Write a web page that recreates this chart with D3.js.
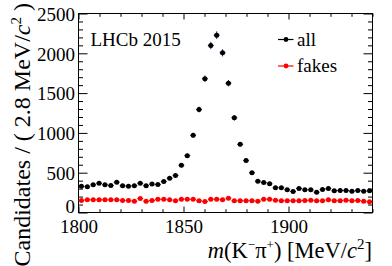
<!DOCTYPE html>
<html><head><meta charset="utf-8">
<script src="https://cdn.jsdelivr.net/npm/d3@7"></script>
<style>
body{margin:0;background:#fff}
svg{display:block}
text{font-family:"Liberation Serif","Times New Roman",serif;fill:#000}
</style>
</head><body>
<svg id="c" width="392" height="266"></svg>
<script>
// ---- data ----
const allCounts = [330,323,348,368,348,339,381,336,330,336,
                   368,336,357,352,389,431,465,594,714,969,
                   1294,1680,2098,2228,2006,1625,1190,856,652,499,
                   394,377,360,311,311,285,264,302,285,285,
                   255,289,302,272,276,276,268,276,268,272];
const fakeCounts = [151,159,159,159,159,159,159,151,151,142,
                    176,142,151,167,167,159,147,167,167,167,
                    147,138,167,167,159,180,147,147,147,147,
                    142,167,167,155,147,147,147,147,151,155,
                    147,147,159,147,147,155,147,151,142,134];
const binStart = 1800, binWidth = 2.8;
const xMajorTicks = [1800,1850,1900];
const yMajorTicks = [0,500,1000,1500,2000,2500];
const seriesNames = ["all","fakes"];
const seriesColors = ["#000000","#ff0000"];
const binCenters = allCounts.map((_,i)=>binStart + binWidth*(i+0.5));

// ---- layout ----
const FONT = '"Liberation Serif","Times New Roman",serif';
const svg = d3.select("#c");
const L=78.5, R=372.5, T=13.5, B=212.5;
const x = d3.scaleLinear().domain([1800,1940]).range([L,R]);
const y = d3.scaleLinear().domain([0,2500]).range([B,T]);

const xMinor = d3.range(1800,1941,10).filter(v=>!xMajorTicks.includes(v));
const yMinor = d3.range(0,2501,100).filter(v=>!yMajorTicks.includes(v));

function addAxis(axis, tx, ty){
  const g = svg.append("g").attr("transform",`translate(${tx},${ty})`).call(axis);
  g.select(".domain").remove();
  g.selectAll("line").attr("stroke","#000").attr("stroke-width",1);
  return g;
}
// bottom
const gxb = addAxis(d3.axisBottom(x).tickValues(xMajorTicks).tickSize(-6).tickPadding(7).tickFormat(d3.format("d")),0,B);
gxb.selectAll("text").attr("font-size",19).style("font-family",FONT);
addAxis(d3.axisBottom(x).tickValues(xMinor).tickSize(-3.3).tickFormat(""),0,B);
// top
addAxis(d3.axisTop(x).tickValues(xMajorTicks).tickSize(-6).tickFormat(""),0,T);
addAxis(d3.axisTop(x).tickValues(xMinor).tickSize(-3.3).tickFormat(""),0,T);
// left
const gyl = addAxis(d3.axisLeft(y).tickValues(yMajorTicks).tickSize(-9).tickPadding(3.5).tickFormat(d3.format("d")),L,0);
gyl.selectAll("text").attr("font-size",19).style("font-family",FONT)
   .attr("dy",d=> d===0 ? "0em" : "0.36em");
addAxis(d3.axisLeft(y).tickValues(yMinor).tickSize(-4.5).tickFormat(""),L,0);
// right
addAxis(d3.axisRight(y).tickValues(yMajorTicks).tickSize(-9).tickFormat(""),R,0);
addAxis(d3.axisRight(y).tickValues(yMinor).tickSize(-4.5).tickFormat(""),R,0);

// frame
svg.append("rect").attr("x",L).attr("y",T).attr("width",R-L).attr("height",B-T)
   .attr("fill","none").attr("stroke","#000").attr("stroke-width",1);

// ---- data points ----
function drawSeries(counts,color,barColor){
  const g = svg.append("g");
  const pts = counts.map((v,i)=>({m:binCenters[i],v}));
  g.selectAll("line.ex").data(pts).join("line")
    .attr("x1",d=>x(d.m-binWidth/2)).attr("x2",d=>x(d.m+binWidth/2))
    .attr("y1",d=>y(d.v)).attr("y2",d=>y(d.v))
    .attr("stroke",barColor).attr("stroke-width",1);
  g.selectAll("line.ey").data(pts).join("line")
    .attr("x1",d=>x(d.m)).attr("x2",d=>x(d.m))
    .attr("y1",d=>y(d.v-Math.sqrt(d.v))).attr("y2",d=>y(d.v+Math.sqrt(d.v)))
    .attr("stroke",barColor).attr("stroke-width",1);
  g.selectAll("circle").data(pts).join("circle")
    .attr("cx",d=>x(d.m)).attr("cy",d=>y(d.v)).attr("r",2.5)
    .attr("fill",color);
}
drawSeries(fakeCounts,seriesColors[1],seriesColors[1]);
drawSeries(allCounts,seriesColors[0],"#1c1c70");

// ---- legend ----
const leg = svg.append("g");
seriesNames.forEach((name,i)=>{
  const ly = 39.5 + i*26.5;
  leg.append("line").attr("x1",278).attr("x2",293.5).attr("y1",ly).attr("y2",ly)
     .attr("stroke",seriesColors[i]).attr("stroke-width",1.2);
  leg.append("circle").attr("cx",286).attr("cy",ly).attr("r",2.4).attr("fill",seriesColors[i]);
  leg.append("text").attr("x",297).attr("y",ly+6).attr("font-size",19).style("font-family",FONT).text(name);
});

// ---- texts ----
svg.append("text").attr("x",90.5).attr("y",45.5).attr("font-size",19).style("font-family",FONT).text("LHCb 2015");

// x title
const xt = svg.append("text").attr("x",372).attr("y",257.5).attr("font-size",22.5)
  .style("font-family",FONT).attr("text-anchor","end");
xt.append("tspan").attr("font-style","italic").text("m");
xt.append("tspan").text("(K");
xt.append("tspan").attr("font-size",13).attr("dy",-9).text("\u2212");
xt.append("tspan").attr("dy",9).text("\u03c0");
xt.append("tspan").attr("font-size",13).attr("dy",-9).text("+");
xt.append("tspan").attr("dy",9).text(") [MeV/");
xt.append("tspan").attr("font-style","italic").text("c");
xt.append("tspan").attr("font-size",15).attr("dy",-9).text("2");
xt.append("tspan").attr("dy",9).text("]");

// y title
const yt = svg.append("text").attr("transform","translate(29.5,3) rotate(-90)")
  .attr("font-size",24).style("font-family",FONT).attr("text-anchor","end");
yt.append("tspan").text("Candidates / ( 2.8 MeV/");
yt.append("tspan").attr("font-style","italic").text("c");
yt.append("tspan").attr("font-size",15).attr("dy",-9).text("2");
yt.append("tspan").attr("dy",9).text(" )");
</script>
</body></html>
